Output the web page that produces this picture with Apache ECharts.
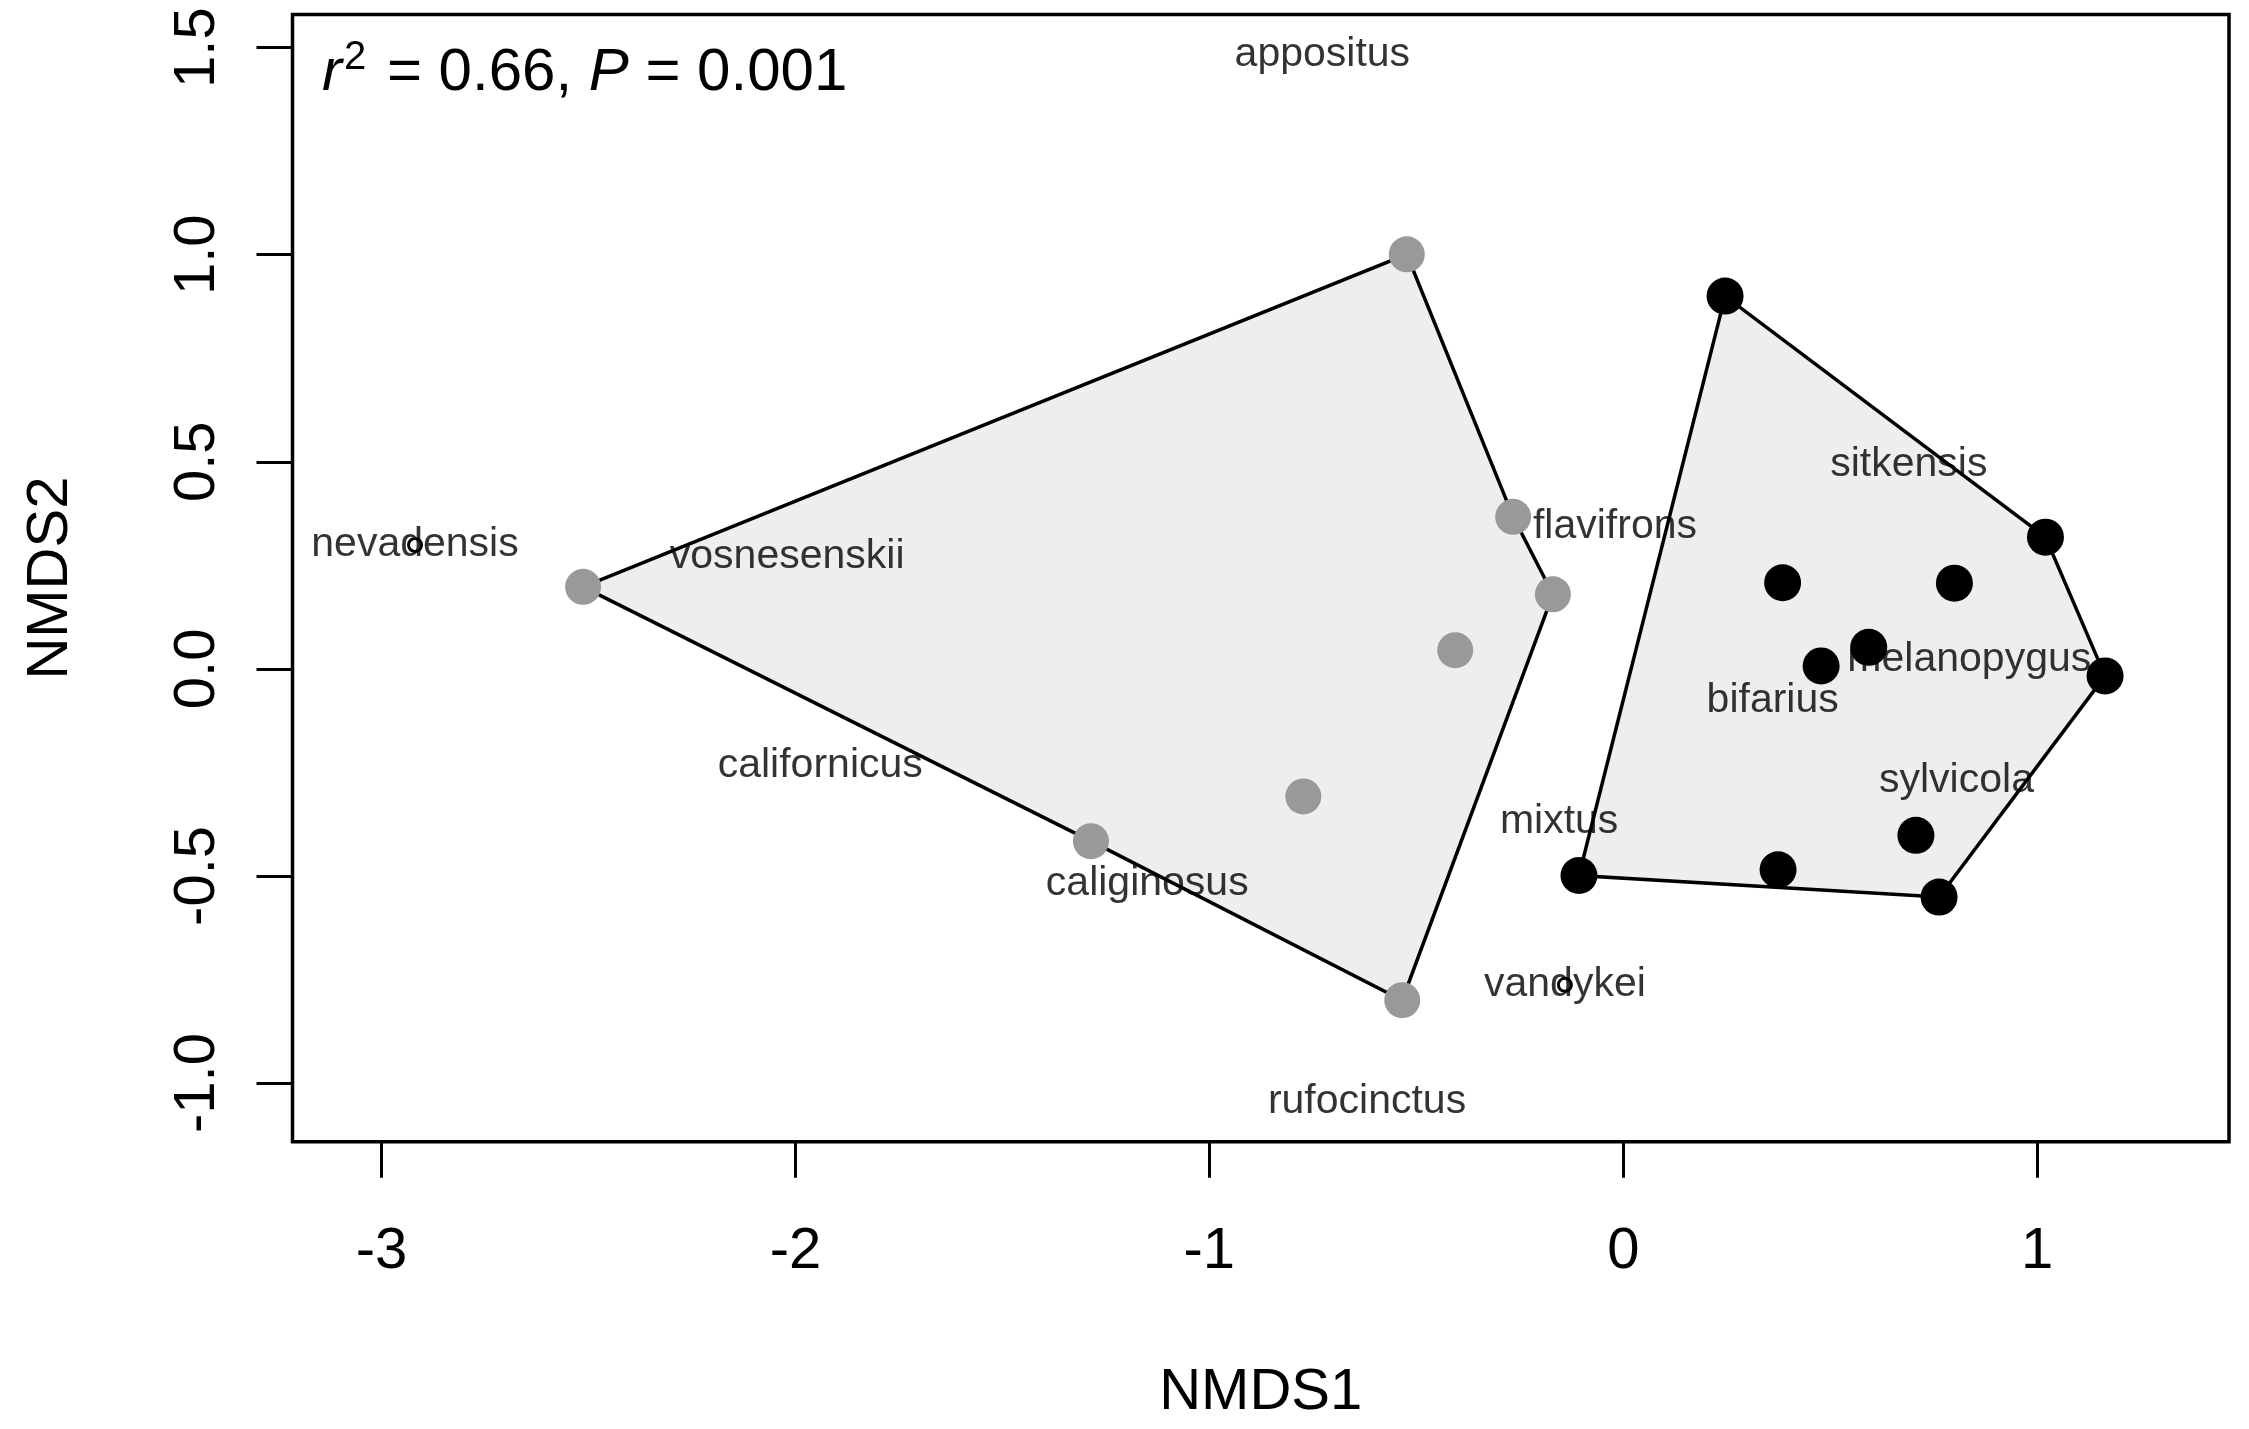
<!DOCTYPE html>
<html>
<head>
<meta charset="utf-8">
<script src="https://cdn.jsdelivr.net/npm/echarts@6/dist/echarts.min.js"></script>
<style>
    html, body { margin: 0; padding: 0; background: #fff; }
    #chart { width: 2249px; height: 1429px; }
</style>
</head>
<body>
<div id="chart"></div>
<script>
// grey group site scores (NMDS1, NMDS2)
const greyPoints = [
    [-2.513, 0.198], [-0.523, 1.001], [-0.266, 0.367], [-0.170, 0.180],
    [-0.406, 0.045], [-0.773, -0.308], [-1.286, -0.416], [-0.534, -0.800]
];
const greyHull = [0, 1, 2, 3, 7, 6];

// black group site scores
const blackPoints = [
    [0.246, 0.900], [1.020, 0.318], [1.164, -0.017], [0.763, -0.551],
    [0.374, -0.485], [-0.107, -0.499], [0.385, 0.208], [0.800, 0.207],
    [0.593, 0.052], [0.478, 0.007], [0.707, -0.402]
];
const blackHull = [5, 0, 1, 2, 3];

// species scores
const speciesNames = ['appositus', 'nevadensis', 'vosnesenskii', 'flavifrons', 'sitkensis',
    'melanopygus', 'bifarius', 'californicus', 'sylvicola', 'mixtus', 'caliginosus',
    'vandykei', 'rufocinctus'];
const speciesX = [-0.727, -2.919, -2.020, -0.020, 0.690, 0.836, 0.361, -1.940, 0.805, -0.155, -1.150, -0.141, -0.619];
const speciesY = [1.484, 0.299, 0.271, 0.344, 0.493, 0.022, -0.078, -0.234, -0.269, -0.369, -0.518, -0.763, -1.045];
const markedSpecies = ['nevadensis', 'vandykei'];

const xTicks = [-3, -2, -1, 0, 1];
const yTicks = [-1.0, -0.5, 0.0, 0.5, 1.0, 1.5];
const statText = { r2: '0.66', p: '0.001' };

const FONT = '"Liberation Sans", Arial, Helvetica, sans-serif';

function hullSeries(points, order) {
    return {
        type: 'custom',
        silent: true,
        data: [points[order[0]]],
        renderItem: function (params, api) {
            return {
                type: 'polygon',
                shape: { points: order.map(i => api.coord(points[i])) },
                style: { fill: '#eeeeee', stroke: '#000', lineWidth: 3.5 }
            };
        }
    };
}

let chart = echarts.init(document.getElementById('chart'));

chart.setOption({
    animation: false,
    backgroundColor: '#fff',
    textStyle: { fontFamily: FONT },
    title: {
        left: 322,
        top: 38,
        padding: 0,
        text: '{i|r}{s|2}{n| = ' + statText.r2 + ', }{i|P}{n| = ' + statText.p + '}',
        textStyle: {
            fontWeight: 'normal',
            rich: {
                n: { fontSize: 60, fontFamily: FONT, fontWeight: 'normal', color: '#000', lineHeight: 70 },
                i: { fontSize: 60, fontFamily: FONT, fontWeight: 'normal', fontStyle: 'italic', color: '#000', lineHeight: 70 },
                s: { fontSize: 40, fontFamily: FONT, fontWeight: 'normal', color: '#000', verticalAlign: 'top', lineHeight: 40, padding: [0, 4, 0, 2] }
            }
        }
    },
    grid: {
        left: 292.5,
        top: 14.5,
        right: 20,
        bottom: 287.3,
        show: true,
        borderColor: '#000',
        borderWidth: 3.5,
        backgroundColor: 'transparent'
    },
    xAxis: {
        type: 'value',
        min: -3.215,
        max: 1.4634,
        name: 'NMDS1',
        nameLocation: 'middle',
        nameGap: 222,
        nameTextStyle: { fontSize: 58, color: '#000', fontFamily: FONT, lineHeight: 58 },
        axisLine: { show: false, onZero: false },
        splitLine: { show: false },
        axisTick: { show: true, inside: false, length: 36, customValues: xTicks, lineStyle: { color: '#000', width: 3 } },
        axisLabel: { customValues: xTicks, margin: 81, fontSize: 58, lineHeight: 58, color: '#000', fontFamily: FONT }
    },
    yAxis: {
        type: 'value',
        min: -1.1417,
        max: 1.580,
        name: 'NMDS2',
        nameLocation: 'middle',
        nameGap: 213,
        nameTextStyle: { fontSize: 58, color: '#000', fontFamily: FONT, lineHeight: 58 },
        axisLine: { show: false, onZero: false },
        splitLine: { show: false },
        axisTick: { show: true, inside: false, length: 36, customValues: yTicks, lineStyle: { color: '#000', width: 3 } },
        axisLabel: {
            customValues: yTicks, rotate: 90, margin: 66, fontSize: 58, lineHeight: 58,
            color: '#000', fontFamily: FONT,
            formatter: v => v.toFixed(1)
        }
    },
    series: [
        hullSeries(greyPoints, greyHull),
        hullSeries(blackPoints, blackHull),
        {
            type: 'scatter',
            data: greyPoints,
            symbolSize: 36,
            itemStyle: { color: '#999999', opacity: 1 },
            silent: true
        },
        {
            type: 'scatter',
            data: blackPoints,
            symbolSize: 37,
            itemStyle: { color: '#000', opacity: 1 },
            silent: true
        },
        {
            type: 'scatter',
            data: speciesNames.filter(n => markedSpecies.includes(n)).map(n => {
                let i = speciesNames.indexOf(n);
                return [speciesX[i], speciesY[i]];
            }),
            symbolSize: 13,
            itemStyle: { color: 'rgba(0,0,0,0)', borderColor: '#000', borderWidth: 3, opacity: 1 },
            silent: true
        },
        {
            type: 'scatter',
            data: speciesNames.map((n, i) => ({ value: [speciesX[i], speciesY[i]], name: n })),
            symbolSize: 1,
            itemStyle: { color: 'rgba(0,0,0,0)' },
            silent: true,
            label: {
                show: true,
                position: 'inside',
                formatter: p => p.name,
                fontSize: 41,
                fontFamily: FONT,
                color: '#000'
            }
        }
    ]
});
</script>
</body>
</html>
